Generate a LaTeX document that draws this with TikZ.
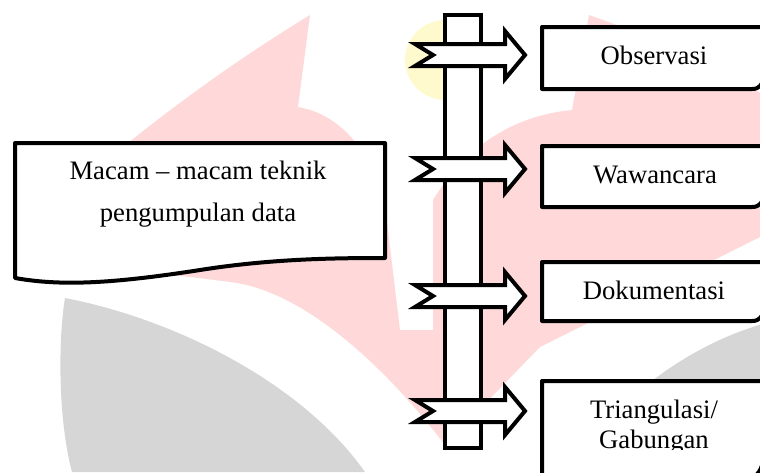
\documentclass[tikz,border=0pt]{standalone}
\usepackage{fontspec}
\setmainfont{Liberation Serif}
\usepackage{xcolor}
\usepackage{tikz}

\definecolor{logopink}{RGB}{255,217,217}
\definecolor{logogray}{RGB}{214,214,214}
\definecolor{logoyellow}{RGB}{255,250,205}

\tikzset{
	outline/.style={line width=3pt,fill=white},
	docbox/.style={outline,line join=round},
	label text/.style={font=\fontsize{20}{31.5}\selectfont,align=center,inner sep=0pt},
	pics/signarrow/.style={code={
		\draw[outline,line join=miter] (-110,-11) -- (-20,-11) -- (-20,-24) -- (0,0) -- (-20,24) -- (-20,11) -- (-110,11) -- (-92,0) -- cycle;
	}}
}

\begin{document}
\begin{tikzpicture}[x=0.75pt,y=-0.75pt]
	\useasboundingbox (0,0) rectangle (760,472);
	\clip (0,0) rectangle (760,472);
	
	% faint logo behind the chart
	\fill[logoyellow] (445,60) circle (40);
	\fill[logopink] (310,15) -- (298,107) .. controls (345,115) and (380,160) .. (388,230) -- (400,330) -- (433,330) -- (433,200) .. controls (470,140) and (520,115) .. (572,110) -- (589,15) .. controls (660,40) and (730,70) .. (770,100) -- (770,232) -- (540,347) -- (445,445) .. controls (380,360) and (300,290) .. (230,282) .. controls (170,274) and (100,268) .. (50,258) -- (60,200) .. controls (140,130) and (220,70) .. (310,15) -- cycle;
	\fill[logogray] (65,298) .. controls (170,318) and (300,380) .. (365,472) -- (72,472) .. controls (58,420) and (58,340) .. (65,298) -- cycle;
	\fill[logogray] (770,322) .. controls (700,340) and (620,390) .. (560,480) -- (770,480) -- cycle;
	
	% left box
	\draw[docbox] (15,143) -- (385,143) -- (385,258) .. controls (330,258) and (270,259) .. (200,270) .. controls (110,284) and (60,286) .. (15,278) -- cycle;
	\node[label text] (macam) at (198,194) {Macam -- macam teknik\\pengumpulan data};
	
	% post
	\draw[outline] (445,15) rectangle (481,448);
	
	% right boxes
	\draw[docbox] (764,78) -- (764,27) -- (542,27) -- (542,89) -- (752,89) .. controls (760,89) and (762,84) .. (764,78);
	\draw[docbox] (764,197) -- (764,146) -- (542,146) -- (542,207) -- (752,207) .. controls (760,207) and (762,202) .. (764,197);
	\draw[docbox] (764,311) -- (764,262) -- (542,262) -- (542,321) -- (752,321) .. controls (760,321) and (762,316) .. (764,311);
	\draw[docbox] (764,458) -- (764,381) -- (542,381) -- (542,478) -- (748,478) .. controls (758,478) and (762,468) .. (764,458);
	
	\node[label text] (obs) at (654,55) {Observasi};
	\node[label text] (waw) at (655,175) {Wawancara};
	\node[label text] (dok) at (654,290) {Dokumentasi};
	\begin{scope}
		\clip (542,381) rectangle (764,449);
		\node[label text,font=\fontsize{20}{22.5}\selectfont] (tri) at (654,427) {Triangulasi/\\Gabungan};
	\end{scope}
	
	% arrows on the post
	\foreach \y in {55,169,296,411}
		\pic at (525,\y) {signarrow};
\end{tikzpicture}
\end{document}
